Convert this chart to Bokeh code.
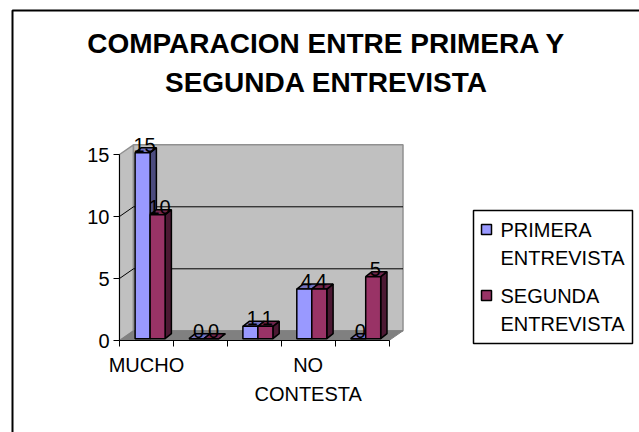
from bokeh.plotting import figure
from bokeh.models import Range1d, PolyAnnotation, LinearAxis, FixedTicker, Label
from bokeh.embed import file_html
from bokeh.resources import INLINE

TITLE_LINES = ["COMPARACION ENTRE PRIMERA Y", "SEGUNDA ENTREVISTA"]
CATEGORY_LABELS = ["MUCHO", "", "", "NO\nCONTESTA", ""]
SERIES_NAMES = [["PRIMERA", "ENTREVISTA"], ["SEGUNDA", "ENTREVISTA"]]
PRIMERA = [15, 0, 1, 4, 0]
SEGUNDA = [10, 0, 1, 4, 5]
Y_TICKS = [0, 5, 10, 15]

PX_X = 53.9   # px per category
PX_Y = 12.4   # px per unit
W, H = 639, 432
ORIGIN_X, ORIGIN_Y = 119, 340

fx = lambda px: px / PX_X
fy = lambda px: px / PX_Y

p = figure(width=W, height=H, output_backend="svg", toolbar_location=None,
           x_range=Range1d(-ORIGIN_X / PX_X, (W - ORIGIN_X) / PX_X),
           y_range=Range1d(-(H - ORIGIN_Y) / PX_Y, ORIGIN_Y / PX_Y),
           x_axis_location=None, y_axis_location=None,
           min_border=0, background_fill_color="white", outline_line_color=None)
p.xgrid.visible = False
p.ygrid.visible = False

def screen_poly(xs, ys, fill, lw=1.5):
    p.add_layout(PolyAnnotation(xs=list(xs), ys=[H - v for v in ys],
                                xs_units="screen", ys_units="screen",
                                fill_color=fill, fill_alpha=1, line_color="black", line_alpha=1, line_width=lw))

# outer chart border
screen_poly([12, 12, 900, 900], [900, 10, 10, 900], None, 2)

# 3-D walls
DX, DY = fx(14), fy(9.7)
n = len(PRIMERA)
top = max(Y_TICKS)
p.patch([0, DX, DX, 0], [0, DY, top + DY, top], fill_color="#c0c0c0", line_color="#909090", line_width=1.5)
p.patch([DX, n + DX, n + DX, DX], [DY, DY, top + DY, top + DY], fill_color="#c0c0c0", line_color="#909090", line_width=1.5)
p.patch([0, n, n + DX, DX], [0, 0, DY, DY], fill_color="#808080", line_color="#808080")
for t in Y_TICKS[1:-1]:
    p.line([0, DX, n + DX], [t, t + DY, t + DY], line_color="black", line_width=1)

# 3-D bars
BAR_L, BAR_W = fx(15.6), fx(15)
BX, BY = fx(6.3), fy(5)
SY = fy(1.8)

def bars(vals, idx, face, side, topc):
    l = [i + BAR_L + idx * BAR_W for i in range(n)]
    r = [a + BAR_W for a in l]
    b = [SY] * n
    t = [v + SY for v in vals]
    lw = 1.5
    p.patches([[rr, rr + BX, rr + BX, rr] for rr in r],
              [[bb, bb + BY, tt + BY, tt] for bb, tt in zip(b, t)],
              fill_color=side, line_color="black", line_width=lw)
    p.patches([[ll, rr, rr + BX, ll + BX] for ll, rr in zip(l, r)],
              [[tt, tt, tt + BY, tt + BY] for tt in t],
              fill_color=topc, line_color="black", line_width=lw)
    p.quad(left=l, right=r, bottom=b, top=t, fill_color=face, line_color="black", line_width=lw)
    return [(a + c) / 2 + fx(2) for a, c in zip(l, r)], t

label_sets = [bars(PRIMERA, 0, "#9999ff", "#4c4c7f", "#7373bf") + (PRIMERA,),
              bars(SEGUNDA, 1, "#993366", "#4c1933", "#73264c") + (SEGUNDA,)]
for lx, ly, vals in label_sets:
    p.text(lx, ly, text=[str(v) for v in vals], text_align="center", text_baseline="bottom",
           text_font_size="20px", y_offset=-1, text_font={"value": "Liberation Sans"}, text_color="black")

# axes, pinned to the origin of the plot inside the full-canvas frame
ya = LinearAxis(fixed_location=0, ticker=FixedTicker(ticks=Y_TICKS), bounds=(0, 15), axis_line_color="black",
                major_tick_line_color="black", major_tick_in=0, major_tick_out=6, minor_tick_line_color=None,
                major_label_text_font="Liberation Sans", major_label_text_font_size="20px",
                major_label_text_color="black", major_label_standoff=4)
p.add_layout(ya, "left")

pos = [i + 0.5 for i, c in enumerate(CATEGORY_LABELS) if c]
xa = LinearAxis(fixed_location=0, ticker=FixedTicker(ticks=pos, minor_ticks=list(range(n + 1))), bounds=(0, n),
                axis_line_color="black", major_tick_line_color=None, major_tick_in=0, major_tick_out=0,
                minor_tick_line_color="black", minor_tick_in=0, minor_tick_out=6,
                major_label_overrides={k: c for k, c in zip(pos, [c for c in CATEGORY_LABELS if c])},
                major_label_text_font="Liberation Sans", major_label_text_font_size="20px",
                major_label_text_color="black", major_label_standoff=7,
                major_label_text_line_height=1.34)
p.add_layout(xa, "below")

def screen_label(x, py, text, align, size, style="normal"):
    p.add_layout(Label(x=x, y=H - py, x_units="screen", y_units="screen", text=text, text_align=align,
                       text_baseline="middle", text_font="Liberation Sans", text_font_style=style,
                       text_font_size=size, text_color="black"))

# title
for line, py in zip(TITLE_LINES, [43, 82]):
    screen_label(326, py, line, "center", "28px", "bold")

# legend
screen_poly([473, 632, 632, 473], [210, 210, 343, 343], "white", 1.5)
for names, face, (py1, py2) in zip(SERIES_NAMES, ["#9999ff", "#993366"], [(229, 257), (295, 323)]):
    screen_poly([481, 491, 491, 481], [py1 - 5, py1 - 5, py1 + 5, py1 + 5], face, 1.5)
    for name, py in zip(names, (py1, py2)):
        screen_label(500, py, name, "left", "20px")

open("out.html", "w").write(file_html(p, INLINE))
